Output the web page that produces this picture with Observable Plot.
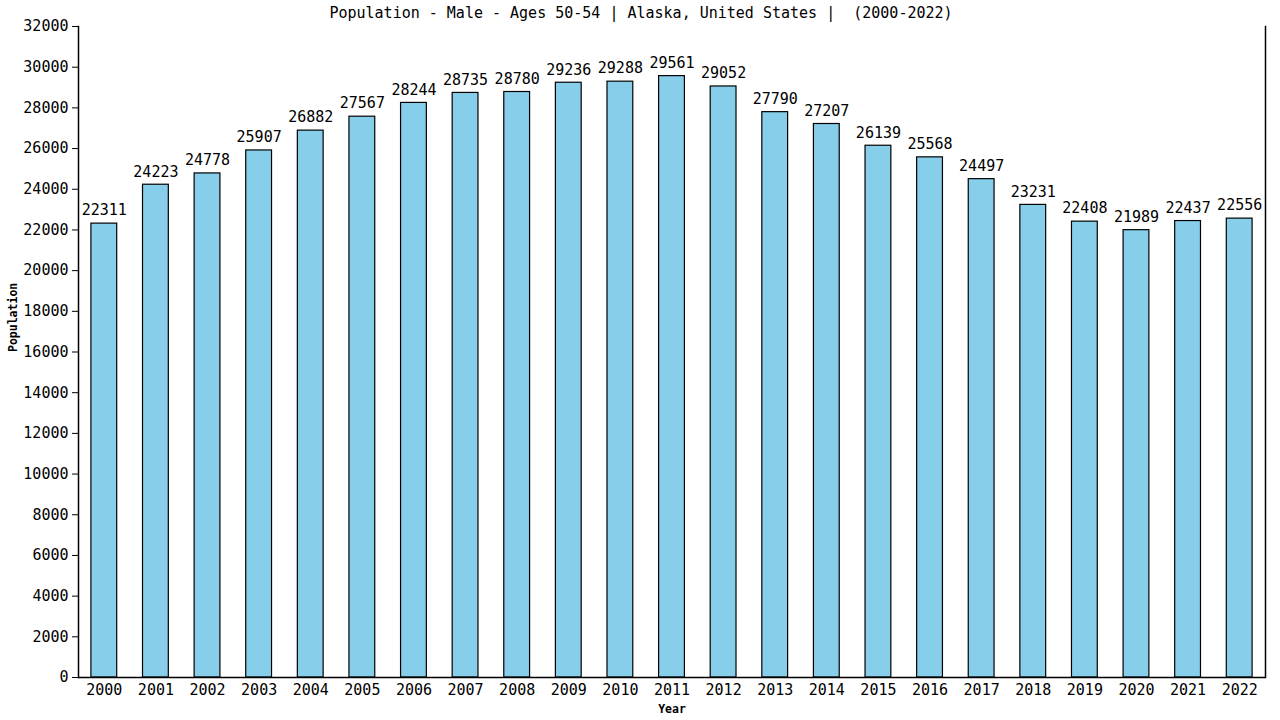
<!DOCTYPE html>
<html><head><meta charset="utf-8">
<script src="https://cdn.jsdelivr.net/npm/d3@7"></script>
<script src="https://cdn.jsdelivr.net/npm/@observablehq/plot@0.6"></script>
<style>
body{margin:0;background:#fff;}
svg{font-family:"DejaVu Sans Mono",monospace;}
</style>
</head><body>
<div id="chart"></div>
<script>
const years = ["2000","2001","2002","2003","2004","2005","2006","2007","2008","2009","2010","2011","2012","2013","2014","2015","2016","2017","2018","2019","2020","2021","2022"];
const population = [22311,24223,24778,25907,26882,27567,28244,28735,28780,29236,29288,29561,29052,27790,27207,26139,25568,24497,23231,22408,21989,22437,22556];
const yTicks = d3.range(0, 32001, 2000);
const titleText = "Population - Male - Ages 50-54 | Alaska, United States |  (2000-2022)";

const data = years.map((y, i) => ({year: y, value: population[i]}));

const chart = Plot.plot({
  width: 1280, height: 720,
  marginLeft: 78, marginRight: 15, marginTop: 26, marginBottom: 43,
  style: {fontFamily: "DejaVu Sans Mono, monospace", fontSize: "15px", background: "#fff", overflow: "visible"},
  x: {domain: years, paddingInner: 0.5, paddingOuter: 0.25, round: false, label: null},
  y: {domain: [0, 32000], label: null},
  marks: [
    Plot.barY(data, {x: "year", y: "value", fill: "#87CEEB", stroke: "#000", strokeWidth: 1.2}),
    Plot.text(data, {x: "year", y: "value", text: d => String(d.value), dy: -13, lineAnchor: "middle", fontSize: 15, fill: "#000"}),
    Plot.axisY({ticks: yTicks, tickFormat: d => String(d), tickSize: 6, tickPadding: 4, fontSize: 15, label: null}),
    Plot.axisX({tickSize: 0, tickPadding: 7, fontSize: 15, label: null}),
    Plot.ruleY([0], {stroke: "#000", strokeWidth: 1.5}),
    Plot.frame({anchor: "left", stroke: "#000", strokeWidth: 1.5}),
    Plot.frame({anchor: "right", stroke: "#000", strokeWidth: 1.5}),
    Plot.text([titleText], {frameAnchor: "top", dx: -31, dy: -13, lineAnchor: "middle", fontSize: 15, fill: "#000", text: d => d}),
    Plot.text(["Population"], {frameAnchor: "left", dx: -65, rotate: -90, fontSize: 11.5, fontWeight: "bold", fill: "#000", text: d => d}),
    Plot.text(["Year"], {frameAnchor: "bottom", dy: 32, lineAnchor: "middle", fontSize: 11.5, fontWeight: "bold", fill: "#000", text: d => d})
  ]
});
document.getElementById("chart").appendChild(chart);
</script>
</body></html>
